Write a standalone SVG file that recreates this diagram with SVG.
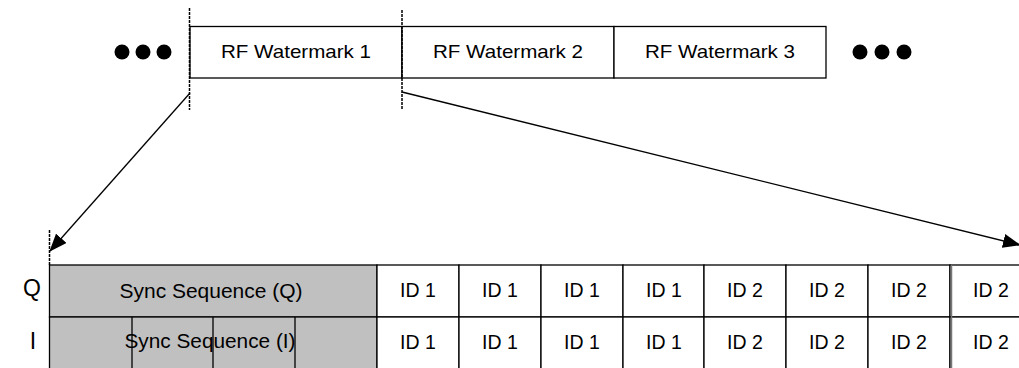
<svg xmlns="http://www.w3.org/2000/svg" width="1019" height="368" viewBox="0 0 1019 368">
<style>
text{font-family:"Liberation Sans",Arial,sans-serif;fill:#000;}
.t{font-size:19px;text-anchor:middle;}
.b{font-size:19.5px;text-anchor:middle;}
.l{font-size:23px;text-anchor:middle;}
.box{fill:#fff;stroke:#000;stroke-width:1.3;}
.sync{fill:#c0c0c0;stroke:#000;stroke-width:1.3;}
.dash{stroke:#000;stroke-width:1.5;stroke-dasharray:3,1;fill:none;}
.ln{stroke:#000;stroke-width:1.3;fill:none;}
.dot{fill:#000;}
</style>
<defs>
<marker id="ah" markerWidth="18" markerHeight="14" refX="17" refY="7" orient="auto" markerUnits="userSpaceOnUse">
<path d="M0,0 L18,7 L0,14 z" fill="#000"/>
</marker>
</defs>
<g id="dots-left"><circle class="dot" cx="122" cy="52" r="7.5"/><circle class="dot" cx="143" cy="52" r="7.5"/><circle class="dot" cx="164" cy="52" r="7.5"/></g>
<g id="dots-right"><circle class="dot" cx="860" cy="52" r="7.5"/><circle class="dot" cx="882" cy="52" r="7.5"/><circle class="dot" cx="904" cy="52" r="7.5"/></g>
<g id="wm1"><rect class="box" x="190" y="26.5" width="212" height="51.5"/><text class="t" x="296" y="58" textLength="150" lengthAdjust="spacingAndGlyphs">RF Watermark 1</text></g>
<g id="wm2"><rect class="box" x="402" y="26.5" width="212" height="51.5"/><text class="t" x="508" y="58" textLength="150" lengthAdjust="spacingAndGlyphs">RF Watermark 2</text></g>
<g id="wm3"><rect class="box" x="614" y="26.5" width="212" height="51.5"/><text class="t" x="720" y="58" textLength="150" lengthAdjust="spacingAndGlyphs">RF Watermark 3</text></g>
<g id="markers">
<line class="dash" x1="189.5" y1="8" x2="189.5" y2="110"/>
<line class="dash" x1="402" y1="10" x2="402" y2="110"/>
<line class="dash" x1="49.5" y1="230" x2="49.5" y2="265"/>
</g>
<g id="label-Q"><text class="l" x="32" y="296">Q</text></g>
<g id="label-I"><text class="l" x="33" y="349">I</text></g>
<g id="sync-q"><rect class="sync" x="49.5" y="265" width="327.5" height="52"/><text class="b" x="211" y="298" textLength="183" lengthAdjust="spacingAndGlyphs">Sync Sequence (Q)</text></g>
<g id="sync-i"><rect class="sync" x="49.5" y="317" width="327.5" height="60"/>
<line class="ln" x1="132" y1="317" x2="132" y2="368"/><line class="ln" x1="213" y1="317" x2="213" y2="368"/><line class="ln" x1="295" y1="317" x2="295" y2="368"/>
<text class="b" x="210" y="348" textLength="171" lengthAdjust="spacingAndGlyphs">Sync Sequence (I)</text></g>
<g id="id-cells">
<rect class="box" x="377" y="265" width="82" height="52"/><text class="b" x="418" y="297">ID 1</text>
<rect class="box" x="459" y="265" width="82" height="52"/><text class="b" x="500" y="297">ID 1</text>
<rect class="box" x="541" y="265" width="82" height="52"/><text class="b" x="582" y="297">ID 1</text>
<rect class="box" x="623" y="265" width="81" height="52"/><text class="b" x="664" y="297">ID 1</text>
<rect class="box" x="704" y="265" width="82" height="52"/><text class="b" x="745" y="297">ID 2</text>
<rect class="box" x="786" y="265" width="82" height="52"/><text class="b" x="827" y="297">ID 2</text>
<rect class="box" x="868" y="265" width="82" height="52"/><text class="b" x="909" y="297">ID 2</text>
<rect class="box" x="950" y="265" width="82" height="52"/><text class="b" x="991" y="297">ID 2</text>
<rect class="box" x="377" y="317" width="82" height="60"/><text class="b" x="418" y="349">ID 1</text>
<rect class="box" x="459" y="317" width="82" height="60"/><text class="b" x="500" y="349">ID 1</text>
<rect class="box" x="541" y="317" width="82" height="60"/><text class="b" x="582" y="349">ID 1</text>
<rect class="box" x="623" y="317" width="81" height="60"/><text class="b" x="664" y="349">ID 1</text>
<rect class="box" x="704" y="317" width="82" height="60"/><text class="b" x="745" y="349">ID 2</text>
<rect class="box" x="786" y="317" width="82" height="60"/><text class="b" x="827" y="349">ID 2</text>
<rect class="box" x="868" y="317" width="82" height="60"/><text class="b" x="909" y="349">ID 2</text>
<rect class="box" x="950" y="317" width="82" height="60"/><text class="b" x="991" y="349">ID 2</text>
<line x1="951.5" y1="265" x2="951.5" y2="368" stroke="#777" stroke-width="1.5"/>
</g>
<g id="connectors">
<line class="ln" x1="190" y1="93" x2="50" y2="251" marker-end="url(#ah)"/>
<line class="ln" x1="402" y1="92" x2="1020" y2="245" marker-end="url(#ah)"/>
</g>
</svg>
